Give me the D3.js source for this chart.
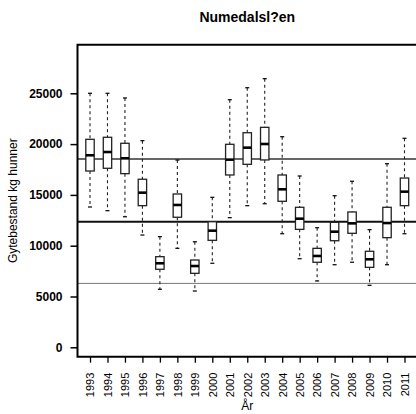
<!DOCTYPE html>
<html>
<head>
<meta charset="utf-8">
<script src="https://cdn.jsdelivr.net/npm/d3@7"></script>
<style>
  html, body { margin: 0; padding: 0; background: #fff; }
  svg { display: block; font-family: "Liberation Sans", Arial, sans-serif; }
</style>
</head>
<body>
<div id="chart"></div>
<script>
const years = ['1993','1994','1995','1996','1997','1998','1999','2000','2001','2002',
               '2003','2004','2005','2006','2007','2008','2009','2010','2011'];
const whiskerHigh = [25000,25000,24540,20340,10890,18430,10390,14760,24370,25550,
                     26440,20730,16860,11770,14920,16340,11580,18070,20570];
const q3 = [20470,20670,20080,16540, 8920,15090, 8590,12360,19980,21120,
            21650,16960,13780, 9740,12300,13320, 9450,13780,16660];
const median = [18900,19220,18600,15220, 8270,14010, 8000,11480,18470,19650,
                20010,15550,12660, 8990,11380,12200, 8660,12230,15320];
const q1 = [17350,17620,17090,13940, 7680,12800, 7280,10530,16960,18010,
            18440,14370,11610, 8370,10490,11220, 7870,10790,13940];
const whiskerLow = [13810,13450,12850,11050, 5710, 9740, 5540, 8270,12760,13940,
                    14130,11180, 8720, 6530, 8130, 8370, 6100, 8130,11180];
const refLines = [6290, 12360, 18530];
const yTicks = [0, 5000, 10000, 15000, 20000, 25000];

const W = 416, H = 414;
const plotL = 77.5, plotR = 417, plotT = 44.7, plotB = 356.7;

const data = years.map((yr, i) => ({
  pos: i + 1, year: yr,
  hi: whiskerHigh[i], q3: q3[i], med: median[i], q1: q1[i], lo: whiskerLow[i]
}));

const svg = d3.select('#chart').append('svg')
  .attr('width', W).attr('height', H);

const x = d3.scaleLinear().domain([0.284, 19.716]).range([plotL, plotR]);
const y = d3.scaleLinear().domain([-925, 29783]).range([plotB, plotT]);

const boxW = 8.4, capW = 4;

// Reference lines
const refStyle = [
  {stroke: '#777', width: 1},
  {stroke: '#111', width: 2},
  {stroke: '#333', width: 1.4}
];
svg.selectAll('.ref')
  .data(refLines)
  .enter().append('line')
    .attr('x1', plotL).attr('x2', W)
    .attr('y1', d => y(d)).attr('y2', d => y(d))
    .attr('stroke', (d, i) => refStyle[i].stroke)
    .attr('stroke-width', (d, i) => refStyle[i].width);

// Boxes
const g = svg.selectAll('.box')
  .data(data)
  .enter().append('g')
    .attr('class', 'box');

// whiskers (dashed)
g.append('line')
  .attr('x1', d => x(d.pos)).attr('x2', d => x(d.pos))
  .attr('y1', d => y(d.hi)).attr('y2', d => y(d.q3))
  .attr('stroke', '#222').attr('stroke-width', 1.1)
  .attr('stroke-dasharray', '3,3');
g.append('line')
  .attr('x1', d => x(d.pos)).attr('x2', d => x(d.pos))
  .attr('y1', d => y(d.q1)).attr('y2', d => y(d.lo))
  .attr('stroke', '#222').attr('stroke-width', 1.1)
  .attr('stroke-dasharray', '3,3');

// caps
['hi', 'lo'].forEach(k => {
  g.append('line')
    .attr('x1', d => x(d.pos) - capW / 2).attr('x2', d => x(d.pos) + capW / 2)
    .attr('y1', d => y(d[k])).attr('y2', d => y(d[k]))
    .attr('stroke', '#111').attr('stroke-width', 1.3);
});

// box
g.append('rect')
  .attr('x', d => x(d.pos) - boxW / 2)
  .attr('y', d => y(d.q3))
  .attr('width', boxW)
  .attr('height', d => y(d.q1) - y(d.q3))
  .attr('fill', '#fff')
  .attr('stroke', '#222')
  .attr('stroke-width', 1.3);

// median
g.append('line')
  .attr('x1', d => x(d.pos) - boxW / 2).attr('x2', d => x(d.pos) + boxW / 2)
  .attr('y1', d => y(d.med)).attr('y2', d => y(d.med))
  .attr('stroke', '#000').attr('stroke-width', 2.6);

// Y axis
const yAxis = svg.append('g')
  .attr('transform', `translate(${plotL},0)`)
  .call(d3.axisLeft(y).tickValues(yTicks).tickSize(7).tickPadding(8).tickFormat(d3.format('d')));
yAxis.select('.domain').remove();
yAxis.selectAll('line').attr('stroke', '#000').attr('stroke-width', 1.5);
yAxis.selectAll('text')
  .style('font-size', '12px')
  .style('font-weight', 'bold')
  .attr('fill', '#000');

// X axis
const xAxis = svg.append('g')
  .attr('transform', `translate(0,${plotB})`)
  .call(d3.axisBottom(x).tickValues(data.map(d => d.pos)).tickSize(6)
    .tickFormat(p => years[p - 1]));
xAxis.select('.domain').remove();
xAxis.selectAll('line').attr('stroke', '#000').attr('stroke-width', 1.3);
xAxis.selectAll('text')
  .attr('transform', 'rotate(-90)')
  .attr('x', -16)
  .attr('y', 0)
  .attr('dy', '0.35em')
  .style('text-anchor', 'end')
  .style('font-size', '11px')
  .attr('fill', '#000');

// Frame
svg.append('path')
  .attr('d', `M${plotR},${plotB}H${plotL}V${plotT}H${plotR}Z`)
  .attr('fill', 'none')
  .attr('stroke', '#000')
  .attr('stroke-width', 2);

// Title
svg.append('text')
  .attr('x', (plotL + plotR) / 2)
  .attr('y', 22)
  .attr('text-anchor', 'middle')
  .style('font-size', '14px')
  .style('font-weight', 'bold')
  .text('Numedalsl?en');

// Axis labels
svg.append('text')
  .attr('x', (plotL + plotR) / 2)
  .attr('y', 410)
  .attr('text-anchor', 'middle')
  .style('font-size', '12px')
  .attr('fill', '#000')
  .text('År');

svg.append('text')
  .attr('transform', `translate(17,${(plotT + plotB) / 2}) rotate(-90)`)
  .attr('text-anchor', 'middle')
  .style('font-size', '12px')
  .attr('fill', '#000')
  .text('Gytebestand kg hunner');
</script>
</body>
</html>
